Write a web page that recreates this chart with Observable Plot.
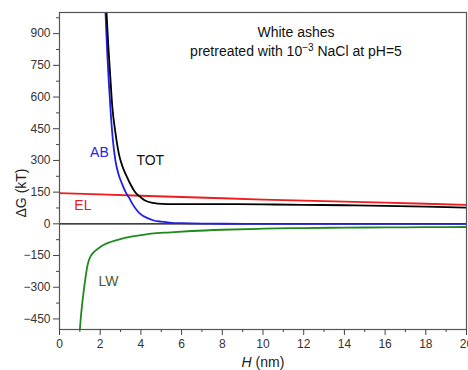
<!DOCTYPE html>
<html>
<head>
<meta charset="utf-8">
<script src="https://cdn.jsdelivr.net/npm/d3@7"></script>
<script src="https://cdn.jsdelivr.net/npm/@observablehq/plot@0.6"></script>
<style>
  html, body { margin: 0; padding: 0; background: #fff; }
  svg { display: block; }
</style>
</head>
<body>
<div id="chart"></div>
<script>
// ---- data ----
const abH  = [2.26, 2.35, 2.43, 2.51, 2.62, 2.75, 2.9, 3.08, 3.25, 3.41, 3.6, 3.82, 4.0, 4.3, 4.6, 5.0, 5.5, 6.0, 7.0, 8.0, 10, 14, 20];
const abG  = [1000, 800, 660, 535, 400, 298, 235, 188, 150, 125, 92, 62, 45, 28, 17, 10, 5, 3, 1, 0.5, 0, 0, 0];

const totH = [2.31, 2.4, 2.5, 2.59, 2.75, 2.92, 3.1, 3.33, 3.5, 3.73, 4.0, 4.23, 4.6, 5.05, 5.5, 6, 7, 8, 10, 12, 14, 16, 18, 20];
const totG = [1000, 840, 690, 560, 430, 330, 270, 219, 185, 148, 125, 109, 99, 94, 93, 93, 93, 93, 92, 90, 88, 85, 81, 77];

const elH  = [0, 2, 4, 6, 8, 10, 12, 14, 16, 18, 20];
const elG  = [145, 139, 133, 127, 121, 115, 110, 105, 100, 95, 90];

const lwH  = [1.0, 1.05, 1.115, 1.2, 1.28, 1.36, 1.44, 1.55, 1.65, 1.77, 2.0, 2.18, 2.5, 3.0, 3.4, 3.82, 4.5, 5.45, 6.5, 8, 10, 12, 14, 16, 18, 20];
const lwG  = [-500, -440, -379, -310, -253, -205, -174, -150, -137, -127, -110, -99, -86, -72, -63, -56, -46, -40, -34, -28, -23, -20, -18, -17, -16, -15];

const seriesNames  = ["AB", "TOT", "EL", "LW"];
const labelH       = [1.96, 4.46, 1.15, 2.41];
const labelG       = [337, 298, 86, -272];

const xTicks      = [0, 2, 4, 6, 8, 10, 12, 14, 16, 18, 20];
const xMinorTicks = [1, 3, 5, 7, 9, 11, 13, 15, 17, 19];
const yTicks      = [-450, -300, -150, 0, 150, 300, 450, 600, 750, 900];
const yMinorTicks = [-375, -225, -75, 75, 225, 375, 525, 675, 825, 975];

const titleLine1 = "White ashes";
const xLabel = ["H", " (nm)"];
const yLabel = "ΔG (kT)";

// ---- build tables ----
const toRows = (hs, gs) => hs.map((h, i) => ({H: h, G: gs[i]}));
const ab  = toRows(abH, abG);
const tot = toRows(totH, totG);
const el  = toRows(elH, elG);
const lw  = toRows(lwH, lwG);
const colors = {AB: "#1f1fe6", TOT: "#000000", EL: "#ee1c1c", LW: "#1e8a1e"};
const labelColors = {AB: "#2424e0", TOT: "#111111", EL: "#e52020", LW: "#4d5a2c"};
const labels = seriesNames.map((n, i) => ({name: n, H: labelH[i], G: labelG[i]}));

const chart = Plot.plot({
  width: 468,
  height: 370,
  marginLeft: 59,
  marginRight: 2,
  marginTop: 12,
  marginBottom: 41,
  x: {domain: [0, 20]},
  y: {domain: [-500, 1000]},
  style: {fontFamily: "'Liberation Sans', Arial, sans-serif", fontSize: "12px", color: "#333", background: "#fff"},
  marks: [
    Plot.ruleY([0], {stroke: "#000", strokeWidth: 1.2}),
    Plot.line(el,  {x: "H", y: "G", stroke: colors.EL,  strokeWidth: 1.8, clip: true}),
    Plot.line(lw,  {x: "H", y: "G", stroke: colors.LW,  strokeWidth: 1.8, clip: true, curve: "monotone-x"}),
    Plot.line(ab,  {x: "H", y: "G", stroke: colors.AB,  strokeWidth: 1.8, clip: true, curve: "monotone-x"}),
    Plot.line(tot, {x: "H", y: "G", stroke: colors.TOT, strokeWidth: 1.8, clip: true, curve: "monotone-x"}),
    Plot.text(labels, {x: "H", y: "G", text: "name", fill: d => labelColors[d.name], fontSize: 14}),
    Plot.frame({stroke: "#555", strokeWidth: 1.2}),
    Plot.axisX({ticks: xTicks, tickSize: 6, tickPadding: 4, label: null, stroke: "#444", fontSize: 12}),
    Plot.axisX({ticks: xMinorTicks, tickSize: 3, tickFormat: () => "", label: null, stroke: "#444"}),
    Plot.axisY({ticks: yTicks, tickSize: 6, tickPadding: 3, label: null, stroke: "#444", fontSize: 12}),
    Plot.axisY({ticks: yMinorTicks, tickSize: 3, tickFormat: () => "", label: null, stroke: "#444"})
  ]
});

document.getElementById("chart").appendChild(chart);

// ---- annotations: title and axis labels ----
const svg = d3.select(chart);
const ff = "'Liberation Sans', Arial, sans-serif";

svg.append("text")
  .attr("x", 296).attr("y", 37)
  .attr("text-anchor", "middle")
  .attr("font-family", ff).attr("font-size", 14).attr("fill", "#111")
  .text(titleLine1);

const t2 = svg.append("text")
  .attr("x", 296).attr("y", 56)
  .attr("text-anchor", "middle")
  .attr("font-family", ff).attr("font-size", 14).attr("fill", "#111");
t2.append("tspan").text("pretreated with 10");
t2.append("tspan").attr("dy", -5).attr("font-size", 10).text("−3");
t2.append("tspan").attr("dy", 5).text(" NaCl at pH=5");

const xl = svg.append("text")
  .attr("x", 263).attr("y", 367)
  .attr("text-anchor", "middle")
  .attr("font-family", ff).attr("font-size", 14).attr("fill", "#222");
xl.append("tspan").attr("font-style", "italic").text(xLabel[0]);
xl.append("tspan").text(xLabel[1]);

svg.append("text")
  .attr("transform", "translate(26,193) rotate(-90)")
  .attr("text-anchor", "middle")
  .attr("font-family", ff).attr("font-size", 14).attr("fill", "#222")
  .text(yLabel);
</script>
</body>
</html>
